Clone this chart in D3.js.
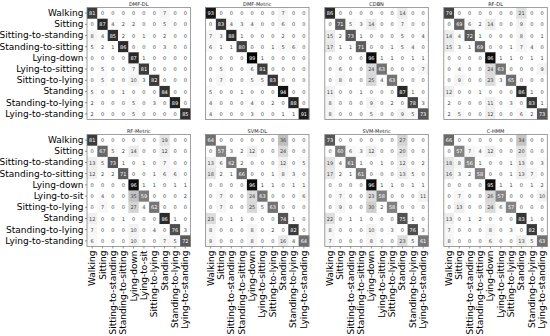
<!DOCTYPE html>
<html><head><meta charset="utf-8">
<script src="https://cdn.jsdelivr.net/npm/d3@7"></script>
<style>body{margin:0;background:#fff}svg{display:block}text{font-family:"DejaVu Sans",sans-serif}</style>
</head><body><svg id="c" width="550" height="336"></svg>
<script>
const titles = ["DMF-DL","DMF-Metric","CDBN","RF-DL","RF-Metric","SVM-DL","SVM-Metric","C-HMM"];
const rowLabelsTop = ["Walking","Sitting","Sitting-to-standing","Standing-to-sitting","Lying-down","Lying-to-sitting","Sitting-to-lying","Standing","Standing-to-lying","Lying-to-standing"];
const rowLabelsBottom = ["Walking","Sitting","Sitting-to-standing","Standing-to-sitting","Lying-down","Lying-to-sit","Sitting-to-lying","Standing","Standing-to-lying","Lying-to-standing"];
const colLabelsShort = ["Walking","Sitting","Sitting-to-standing","Standing-to-sitting","Lying-down","Lying-to-sit","Sitting-to-lying","Standing","Standing-to-lying","Lying-to-standing"];
const colLabelsLong = ["Walking","Sitting","Sitting-to-standing","Standing-to-sitting","Lying-down","Lying-to-sitting","Sitting-to-lying","Standing","Standing-to-lying","Lying-to-standing"];

const mDMFDL = [
[81,0,0,0,0,0,0,7,0,0],
[0,87,4,2,2,0,0,5,0,0],
[8,4,85,2,0,1,0,2,0,0],
[5,2,1,86,0,0,0,3,0,0],
[0,0,0,0,87,1,0,0,0,0],
[0,5,0,0,7,81,0,0,0,0],
[0,5,0,0,10,3,82,0,0,0],
[5,0,0,1,0,0,0,84,0,0],
[2,0,0,0,5,0,3,0,89,0],
[2,0,0,0,5,0,0,0,0,85]];
const mDMFMetric = [
[93,0,0,0,0,0,0,7,0,0],
[0,83,4,3,4,0,0,6,0,0],
[7,3,88,1,0,0,0,2,0,0],
[6,1,1,80,0,0,1,5,6,0],
[0,0,0,0,99,1,0,0,0,0],
[0,5,0,0,6,81,0,0,0,0],
[0,7,0,0,5,5,83,0,0,0],
[5,0,0,1,0,0,0,94,0,0],
[4,0,0,0,4,0,2,0,88,0],
[4,0,0,0,3,0,0,1,1,91]];
const mCDBN = [
[86,0,0,0,0,0,0,14,0,0],
[0,71,5,3,14,0,0,7,0,0],
[15,2,73,1,0,0,0,5,0,4],
[17,1,1,71,0,0,1,5,4,0],
[0,0,0,0,96,1,1,0,1,1],
[0,6,0,0,24,63,0,0,0,7],
[0,8,0,0,25,4,63,0,0,0],
[11,0,0,1,0,0,0,87,1,0],
[8,0,0,0,9,0,2,0,78,3],
[8,0,0,0,5,0,0,9,5,73]];
const mRFDL = [
[79,0,0,0,0,0,0,21,0,0],
[0,69,6,2,14,0,0,9,0,0],
[14,4,72,1,0,0,0,8,0,1],
[15,3,1,69,0,0,1,7,4,0],
[0,0,0,0,96,1,1,0,1,1],
[0,4,0,0,24,63,0,0,0,9],
[0,9,0,0,23,3,65,0,0,0],
[12,0,0,1,0,0,0,86,1,0],
[2,0,0,0,11,0,3,0,83,1],
[2,5,0,0,12,0,0,6,2,73]];
const mRFMetric = [
[81,0,0,0,0,0,0,19,0,0],
[0,67,5,2,14,0,0,12,0,0],
[13,5,73,1,0,1,0,7,0,0],
[12,2,2,71,0,0,1,6,6,0],
[0,0,0,0,96,1,1,0,1,1],
[0,4,0,0,35,59,0,0,0,2],
[0,7,0,0,27,4,62,0,0,0],
[12,0,0,1,0,0,0,86,1,0],
[7,0,0,0,10,0,4,0,76,3],
[6,0,0,0,10,0,0,7,5,72]];
const mSVMDL = [
[64,0,0,0,0,0,0,36,0,0],
[0,57,3,2,12,0,0,24,0,0],
[13,6,62,2,0,0,0,12,0,5],
[18,2,1,66,0,0,1,8,3,0],
[0,0,0,0,96,1,1,0,1,1],
[0,7,0,0,24,63,0,0,0,6],
[0,7,0,0,25,5,63,0,0,0],
[23,0,1,1,0,0,0,74,1,0],
[8,0,0,0,8,0,2,0,82,0],
[8,0,0,0,8,0,0,16,4,64]];
const mSVMMetric = [
[73,0,0,0,0,0,0,27,0,0],
[0,60,6,3,12,0,0,20,0,0],
[19,4,61,1,0,1,0,12,0,2],
[17,2,1,61,0,0,0,13,5,0],
[0,0,0,0,96,1,1,0,1,1],
[0,7,0,0,23,58,0,0,0,11],
[0,9,0,0,30,2,58,0,0,0],
[22,0,1,1,0,0,0,75,1,0],
[8,0,0,0,10,0,3,0,76,3],
[7,0,0,0,8,0,0,23,5,61]];
const mCHMM = [
[66,0,0,0,0,0,0,34,0,0],
[0,57,7,4,12,0,0,20,0,0],
[18,8,56,1,0,0,1,13,0,3],
[16,3,2,58,0,0,1,13,7,0],
[0,0,0,0,95,1,1,0,1,2],
[0,7,0,0,26,57,0,0,0,10],
[0,13,0,0,24,6,57,0,0,0],
[13,0,1,2,0,0,0,83,1,0],
[7,0,0,0,8,0,3,0,82,0],
[8,0,0,0,6,0,0,13,5,63]];

const matrices = [mDMFDL,mDMFMetric,mCDBN,mRFDL,mRFMetric,mSVMDL,mSVMMetric,mCHMM];
const xLabelSets = [colLabelsShort,colLabelsLong,colLabelsLong,colLabelsLong];

const svg = d3.select("#c");
const lefts = [87, 205.5, 324.8, 443.8];
const tops = [7.5, 134.5];
const W = 103.5, H = 112;
const color = d3.scaleSequential(d3.interpolateGreys).domain([0,100]);
const idx = d3.range(10);

matrices.forEach((m,k)=>{
  const r = Math.floor(k/4), c = k%4;
  const g = svg.append("g").attr("transform",`translate(${lefts[c]},${tops[r]})`);
  const x = d3.scaleBand().domain(idx).range([0,W]);
  const y = d3.scaleBand().domain(idx).range([0,H]);
  const cells = [];
  m.forEach((row,i)=>row.forEach((v,j)=>cells.push({i,j,v})));
  g.selectAll("rect.cell").data(cells).join("rect").attr("class","cell")
    .attr("x",d=>x(d.j)).attr("y",d=>y(d.i))
    .attr("width",x.bandwidth()+0.3).attr("height",y.bandwidth()+0.3)
    .attr("fill",d=>color(d.v));
  g.selectAll("text.val").data(cells).join("text").attr("class","val")
    .attr("x",d=>x(d.j)+x.bandwidth()/2).attr("y",d=>y(d.i)+y.bandwidth()/2)
    .attr("text-anchor","middle").attr("dominant-baseline","central")
    .attr("font-size",5).attr("fill",d=>d.v>50?"#fff":"#444")
    .text(d=>d.v);
  g.append("rect").attr("width",W).attr("height",H).attr("fill","none")
    .attr("stroke","#888").attr("stroke-width",0.8);
  g.append("text").attr("x",W/2).attr("y",-2).attr("text-anchor","middle")
    .attr("font-size",5).attr("fill","#222").text(titles[k]);
  if(c===0){
    const labels = r===0?rowLabelsTop:rowLabelsBottom;
    const ya = d3.axisLeft(y).tickSize(2).tickPadding(1.5).tickFormat(i=>labels[i]);
    const ag = g.append("g").call(ya);
    ag.select(".domain").remove();
    ag.selectAll("line").attr("stroke","#444").attr("stroke-width",0.6);
    ag.selectAll("text").attr("font-size",9).attr("fill","#000").style("font-family","DejaVu Sans");
  }
  if(r===1){
    const labels = xLabelSets[c];
    const xa = d3.axisBottom(x).tickSize(2).tickPadding(1.5).tickFormat(i=>labels[i]);
    const ag = g.append("g").attr("transform",`translate(0,${H})`).call(xa);
    ag.select(".domain").remove();
    ag.selectAll("line").attr("stroke","#444").attr("stroke-width",0.6);
    ag.selectAll("text").attr("font-size",9).attr("fill","#000").style("font-family","DejaVu Sans")
      .attr("text-anchor","end").attr("dominant-baseline","central")
      .attr("transform","rotate(-90)").attr("x",-4).attr("y",0).attr("dy",null);
  }
});
</script></body></html>
